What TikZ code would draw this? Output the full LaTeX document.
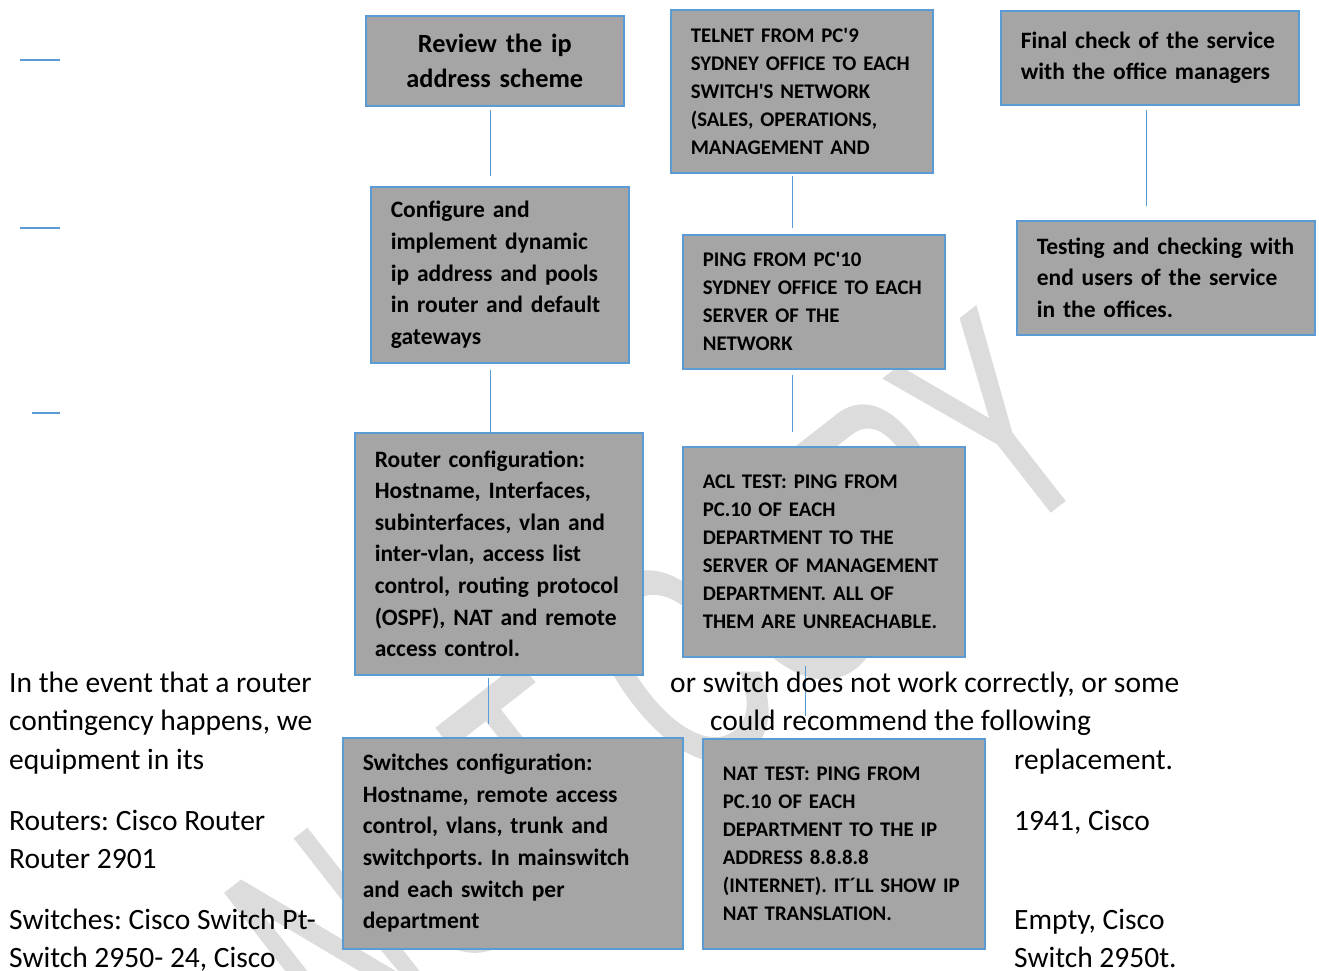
\documentclass[tikz,border=0pt]{standalone}
\usepackage{fontspec}
\setmainfont{Carlito}
\newfontfamily\calfont{Carlito}
\newfontfamily\wmfont{Liberation Sans}[FakeBold=1]
\definecolor{boxfill}{HTML}{A5A5A5}
\definecolor{boxline}{HTML}{5B9BD5}
\definecolor{wmgray}{HTML}{DCDCDC}
\frenchspacing
\begin{document}
\begin{tikzpicture}[x=1pt,y=-1pt,
  box/.style={draw=boxline, line width=1.6pt, fill=boxfill, anchor=north west,
    inner xsep=20pt, inner ysep=0pt, align=left},
  lowbox/.style={box, font=\calfont\bfseries\fontsize{23.5}{31.6}\selectfont},
  capbox/.style={box, font=\calfont\bfseries\fontsize{20.8}{28}\selectfont},
  conn/.style={draw=boxline, line width=1.2pt},
  body/.style={anchor=base west, inner sep=0pt, font=\calfont\fontsize{29.5}{38.5}\selectfont}]
\useasboundingbox (0,0) rectangle (1319,970);

% watermark
\node[text=wmgray, rotate=38, inner sep=0pt] (wm) at (660,685)
  {\wmfont\fontsize{300}{300}\selectfont\scalebox{0.62}[1]{NOT COPY}};

% left column boxes
\node[box, font=\calfont\bfseries\fontsize{26.3}{35}\selectfont, align=center, text width=218pt, minimum height=90pt] (A) at (365,15)
  {Review the ip\\address scheme};
\node[lowbox, text width=218pt, minimum height=176pt] (B) at (370,186)
  {Configure and\\implement dynamic\\ip address and pools\\in router and default\\gateways};
\node[lowbox, text width=248pt, minimum height=242pt] (C) at (354,432)
  {Router configuration:\\Hostname, Interfaces,\\subinterfaces, vlan and\\inter-vlan, access list\\control, routing protocol\\(OSPF), NAT and remote\\access control.};
\node[lowbox, text width=300pt, minimum height=211pt] (D) at (342,737)
  {Switches configuration:\\Hostname, remote access\\control, vlans, trunk and\\switchports. In mainswitch\\and each switch per\\department};

% middle column boxes
\node[capbox, text width=222pt, minimum height=163pt] (E) at (670,9)
  {TELNET FROM PC'9\\SYDNEY OFFICE TO EACH\\SWITCH'S NETWORK\\(SALES, OPERATIONS,\\MANAGEMENT AND\\[-6pt]};
\node[capbox, text width=222pt, minimum height=134pt] (F) at (682,234)
  {PING FROM PC'10\\SYDNEY OFFICE TO EACH\\SERVER OF THE\\NETWORK};
\node[capbox, text width=242pt, minimum height=210pt] (G) at (682,446)
  {ACL TEST: PING FROM\\PC.10 OF EACH\\DEPARTMENT TO THE\\SERVER OF MANAGEMENT\\DEPARTMENT. ALL OF\\THEM ARE UNREACHABLE.};
\node[capbox, text width=242pt, minimum height=210pt] (H) at (702,738)
  {NAT TEST: PING FROM\\PC.10 OF EACH\\DEPARTMENT TO THE IP\\ADDRESS 8.8.8.8\\(INTERNET). IT´LL SHOW IP\\NAT TRANSLATION.};

% right column boxes
\node[lowbox, text width=258pt, minimum height=94pt] (I) at (1000,10)
  {Final check of the service\\with the office managers};
\node[lowbox, text width=258pt, minimum height=114pt] (J) at (1016,220)
  {Testing and checking with\\end users of the service\\in the offices.};

% connectors
\draw[conn] ([xshift=-4pt,yshift=-3pt]A.south) -- ([xshift=-9pt,yshift=10pt]B.north);
\draw[conn] ([xshift=-9pt,yshift=-6pt]B.south) -- ([xshift=-8pt]C.north);
\draw[conn] ([xshift=-10pt,yshift=-2pt]C.south) -- ([xshift=-24pt,yshift=13pt]D.north);
\draw[conn] ([xshift=-9pt,yshift=-2pt]E.south) -- ([xshift=-21pt,yshift=6pt]F.north);
\draw[conn] ([xshift=-21pt,yshift=-5pt]F.south) -- ([xshift=-31pt,yshift=14pt]G.north);
\draw[conn] ([xshift=-18pt,yshift=-8pt]G.south) -- ([xshift=-38pt,yshift=22pt]H.north);
\draw[conn] ([xshift=-3pt,yshift=-4pt]I.south) -- ([xshift=-19pt,yshift=14pt]J.north);

% short stubs on the left
\coordinate (s1a) at (20,60);  \coordinate (s1b) at (60,60);
\coordinate (s2a) at (20,228); \coordinate (s2b) at (60,228);
\coordinate (s3a) at (32,413); \coordinate (s3b) at (60,413);
\draw[conn] (s1a) -- (s1b);
\draw[conn] (s2a) -- (s2b);
\draw[conn] (s3a) -- (s3b);

% body text
\node[body] (t1) at (9,692) {In the event that a router};
\node[body] (t2) at (9,730) {contingency happens, we};
\node[body] (t3) at (9,769) {equipment in its};
\node[body] (t4) at (9,830) {Routers: Cisco Router};
\node[body] (t5) at (9,868) {Router 2901};
\node[body] (t6) at (9,929) {Switches: Cisco Switch Pt-};
\node[body] (t7) at (9,967) {Switch 2950- 24, Cisco};
\node[body] (u1) at (670,692) {or switch does not work correctly, or some};
\node[body] (u2) at (710,730) {could recommend the following};
\node[body] (u3) at (1014,769) {replacement.};
\node[body] (u4) at (1014,830) {1941, Cisco};
\node[body] (u5) at (1014,929) {Empty, Cisco};
\node[body] (u6) at (1014,967) {Switch 2950t.};
\end{tikzpicture}
\end{document}
